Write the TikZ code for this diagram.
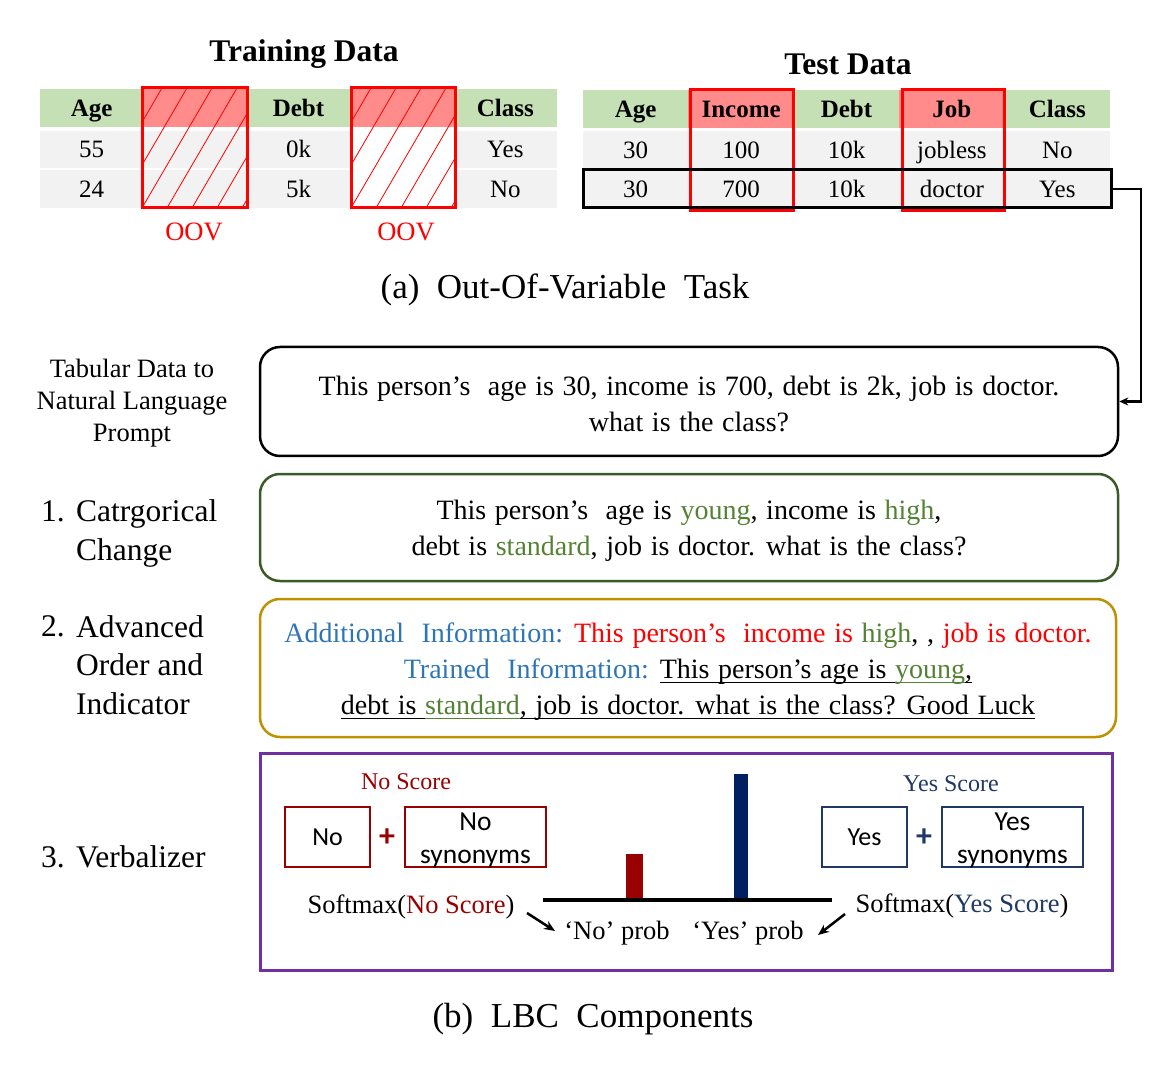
\documentclass[tikz,border=0pt]{standalone}
\usepackage{fontspec}
\setmainfont{Liberation Serif}
\newfontfamily\calfont{Carlito}
\usetikzlibrary{arrows.meta}
\newcommand\undl[1]{\setbox0\hbox{#1}\rlap{\rule[-5pt]{\wd0}{1.4pt}}\box0}
\newcommand\widesp{\spaceskip=0.31em plus 0.1em minus 0.05em\relax}

\definecolor{hdrgreen}{HTML}{C5E0B4}
\definecolor{rowgray}{HTML}{F2F2F2}
\definecolor{oovpink}{HTML}{FF8B8B}
\definecolor{boxgreen}{HTML}{3A5A27}
\definecolor{boxgold}{HTML}{BF9000}
\definecolor{boxpurple}{HTML}{7030A0}
\definecolor{darkred}{HTML}{990000}
\definecolor{navy}{HTML}{203864}
\definecolor{barnavy}{HTML}{002060}
\definecolor{infoblue}{HTML}{2E75B6}
\definecolor{txtgreen}{HTML}{548235}

\begin{document}
\begin{tikzpicture}[x=1pt,y=-1pt,
  hcell/.style={minimum width=103.4pt, minimum height=38pt, inner sep=0pt, text height=20pt, text depth=3.5pt, font=\fontsize{25}{30}\selectfont\bfseries},
  bcell/.style={minimum width=103.4pt, minimum height=37.5pt, inner sep=0pt, text height=20pt, text depth=3.5pt, font=\fontsize{25}{30}\selectfont},
  thcell/.style={hcell, minimum width=105.4pt},
  tbcell/.style={bcell, minimum width=105.4pt},
  oovbox/.style={draw=red, line width=3pt, inner sep=0pt},
  titletxt/.style={font=\fontsize{31.5}{36}\selectfont\bfseries},
  captxt/.style={font=\fontsize{35}{40}\selectfont},
  promptbox/.style={rounded corners=20pt, line width=2.5pt, minimum width=858pt, inner sep=0pt},
  prompttxt/.style={align=center, inner sep=0pt, font=\fontsize{28}{36}\selectfont\widesp},
  sidelbl/.style={font=\fontsize{31.5}{38.5}\selectfont, align=left, inner sep=0pt},
  vbox/.style={line width=2.5pt, minimum width=85pt, minimum height=60pt, inner sep=0pt, font=\calfont\fontsize{26}{33}\selectfont},
  synbox/.style={vbox, minimum width=141pt},
  syntxt/.style={align=center, inner sep=0pt, font=\calfont\fontsize{27.5}{33}\selectfont},
  plussign/.style={font=\calfont\bfseries\fontsize{32}{32}\selectfont, inner sep=0pt},
  vtxt/.style={font=\fontsize{26.5}{30}\selectfont, inner sep=0pt},
  ptr/.style={line width=2.5pt, -{Stealth[length=11pt,width=9pt]}}
]
\useasboundingbox (0,0) rectangle (1171,1067);

% ---------------- Training data ----------------
\node[titletxt] (trtitle) at (304,54) {Training Data};
\foreach \t/\f [count=\c] in {Age/hdrgreen, /oovpink, Debt/hdrgreen, /oovpink, Class/hdrgreen}
  \node[hcell, fill=\f] (tr-h-\c) at ({40+(\c-0.5)*103.4}, 108) {\t};
\foreach \t/\f [count=\c] in {55/rowgray, /rowgray, 0k/rowgray, /white, Yes/rowgray}
  \node[bcell, fill=\f] (tr-a-\c) at ({40+(\c-0.5)*103.4}, 149.5) {\t};
\foreach \t/\f [count=\c] in {24/rowgray, /rowgray, 5k/rowgray, /white, No/rowgray}
  \node[bcell, fill=\f] (tr-b-\c) at ({40+(\c-0.5)*103.4}, 189) {\t};
\begin{scope}
  \clip (142,88) rectangle (247,208);
  \foreach \i in {-4,...,5} \draw[red, line width=0.8pt] ({142+\i*25},208) -- ++(70,-120);
\end{scope}
\begin{scope}
  \clip (351,88) rectangle (455,208);
  \foreach \i in {-4,...,5} \draw[red, line width=0.8pt] ({351+\i*25},208) -- ++(70,-120);
\end{scope}
\node[oovbox, minimum width=105pt, minimum height=120pt] (oov1) at (194.5,148) {};
\node[oovbox, minimum width=104pt, minimum height=120pt] (oov2) at (403,148) {};
\node[font=\fontsize{26.5}{30}\selectfont, text=red] (oovl1) at (194,232) {OOV};
\node[font=\fontsize{26.5}{30}\selectfont, text=red] (oovl2) at (406,232) {OOV};

% ---------------- Test data ----------------
\node[titletxt] (tetitle) at (848,64) {Test Data};
\foreach \t/\f [count=\c] in {Age/hdrgreen, Income/oovpink, Debt/hdrgreen, Job/oovpink, Class/hdrgreen}
  \node[thcell, fill=\f] (te-h-\c) at ({583+(\c-0.5)*105.4}, 109.5) {\t};
\foreach \t [count=\c] in {30, 100, 10k, jobless, No}
  \node[tbcell, fill=rowgray] (te-a-\c) at ({583+(\c-0.5)*105.4}, 150) {\t};
\foreach \t [count=\c] in {30, 700, 10k, doctor, Yes}
  \node[tbcell, fill=rowgray] (te-b-\c) at ({583+(\c-0.5)*105.4}, 189.5) {\t};
\node[oovbox, minimum width=103pt, minimum height=121pt] (oov3) at (741.5,150.5) {};
\node[oovbox, minimum width=102pt, minimum height=121pt] (oov4) at (953,150.5) {};
\node[draw=black, line width=3pt, minimum width=528pt, minimum height=38pt, inner sep=0pt] (rowbox) at (847,189) {};

\node[captxt] (capa) at (565,290) {(a)\ \ Out-Of-Variable\ \ Task};

% ---------------- Prompt boxes ----------------
\node[promptbox, draw=black, minimum height=109pt] (p1) at (689,401.5) {};
\node[prompttxt] (t1) at (689,404)
  {This person’s\ \ age is 30, income is 700, debt is 2k, job is doctor.\\ what is the class?};
\coordinate (turn) at (1141,189);
\draw[line width=2.5pt, -{Stealth[length=9pt,width=8pt]}] (rowbox.east) -- (turn) |- (p1.east);

\node[promptbox, draw=boxgreen, minimum height=107pt] (p2) at (689,527.5) {};
\node[prompttxt] (t2) at (689,531)
  {This person’s\ \ age is \textcolor{txtgreen}{young}, income is \textcolor{txtgreen}{high},\\
   debt is \textcolor{txtgreen}{standard}, job is doctor. what is the class?};

\node[promptbox, draw=boxgold, minimum height=138pt, minimum width=856pt] (p3) at (688,668) {};
\node[prompttxt] (t3) at (688,671.5)
  {\textcolor{infoblue}{Additional\ \ Information:} \textcolor{red}{This person’s\ \ income is} \textcolor{txtgreen}{high}, , \textcolor{red}{job is doctor.}\\
   \textcolor{infoblue}{Trained\ \ Information:} \undl{This person’s age is }\textcolor{txtgreen}{\undl{young}}\undl{,}\\
   \undl{debt is }\textcolor{txtgreen}{\undl{standard}}\undl{, job is doctor. what is the class? Good Luck}};

% ---------------- Side labels ----------------
\node[font=\fontsize{26.5}{32}\selectfont, align=center, inner sep=0pt] (l0) at (132,403) {Tabular Data to\\Natural Language\\Prompt};
\node[sidelbl, anchor=west] (n1) at (41,511) {1.};
\node[sidelbl, anchor=west] (l1) at (76,533.5) {Catrgorical\\Change};
\node[sidelbl, anchor=west] (n2) at (41,626) {2.};
\node[sidelbl, anchor=west] (l2) at (76,665) {Advanced\\Order and\\Indicator};
\node[sidelbl, anchor=west] (n3) at (41,857) {3.};
\node[sidelbl, anchor=west] (l3) at (76,857) {Verbalizer};

% ---------------- Verbalizer ----------------
\node[draw=boxpurple, line width=3pt, minimum width=852pt, minimum height=217pt, inner sep=0pt] (vb) at (686,861.5) {};
\node[vtxt, text=darkred, font=\fontsize{24}{28}\selectfont] (nosc) at (406,782) {No Score};
\node[vbox, draw=darkred] (nobox) at (327.5,837) {No};
\node[plussign, text=darkred] (plus1) at (387,838) {+};
\node[synbox, draw=darkred] (nosyn) at (475.5,837) {};
\node[syntxt] (nosynt) at (475.5,840) {No\\synonyms};
\node[vtxt, text=navy, font=\fontsize{24}{28}\selectfont] (yessc) at (951,784) {Yes Score};
\node[vbox, draw=navy] (yesbox) at (864.5,837) {Yes};
\node[plussign, text=navy] (plus2) at (924,838) {+};
\node[synbox, draw=navy] (yessyn) at (1012.5,837) {};
\node[syntxt] (yessynt) at (1012.5,840) {Yes\\synonyms};

\fill[darkred] (626,854) rectangle (643,899);
\fill[barnavy] (734,774) rectangle (748,899);
\coordinate (axl) at (543,900);
\coordinate (axr) at (832,900);
\draw[line width=4pt] (axl) -- (axr);

\node[vtxt] (softno) at (411,907) {Softmax(\textcolor{darkred}{No Score})};
\node[vtxt] (softyes) at (962,906) {Softmax(\textcolor{navy}{Yes Score})};
\node[vtxt] (noprob) at (617,933) {‘No’ prob};
\node[vtxt] (yesprob) at (748,933) {‘Yes’ prob};
\coordinate (a1s) at (527,913);
\coordinate (a1e) at (555,931);
\coordinate (a2s) at (845,914);
\coordinate (a2e) at (818,935);
\draw[ptr] (a1s) -- (a1e);
\draw[ptr] (a2s) -- (a2e);

\node[captxt] (capb) at (593,1019) {(b)\ \ LBC\ \ Components};
\end{tikzpicture}
\end{document}
